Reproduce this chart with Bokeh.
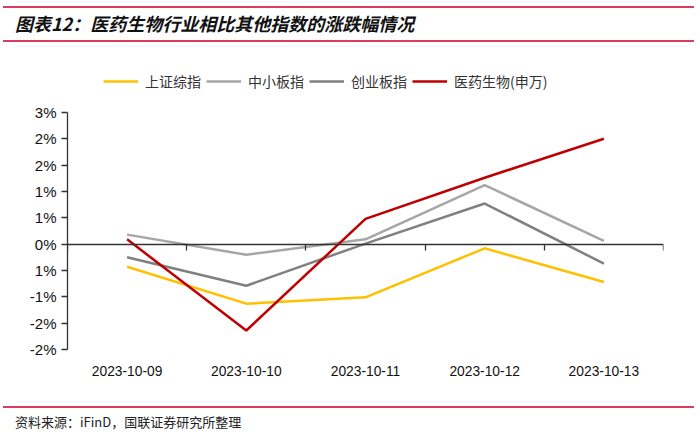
from bokeh.plotting import figure
from bokeh.models import Range1d, FixedTicker, LinearAxis, Div
from bokeh.layouts import column
from bokeh.embed import file_html
from bokeh.resources import INLINE

# ---- data ----
dates = ["2023-10-09", "2023-10-10", "2023-10-11", "2023-10-12", "2023-10-13"]
sh_index = [-0.43, -1.13, -1.01, -0.08, -0.72]      # 上证综指
sme_index = [0.18, -0.20, 0.09, 1.12, 0.06]          # 中小板指
gem_index = [-0.25, -0.79, 0.01, 0.77, -0.37]        # 创业板指
pharma_index = [0.09, -1.64, 0.48, 1.26, 2.00]       # 医药生物(申万)
series_names = ["上证综指", "中小板指", "创业板指", "医药生物(申万)"]
y_ticks = [-2.0, -1.5, -1.0, -0.5, 0.0, 0.5, 1.0, 1.5, 2.0, 2.5]
y_tick_labels = ["-2%", "-2%", "-1%", "1%", "0%", "1%", "1%", "2%", "2%", "3%"]
title_text = "图表12：医药生物行业相比其他指数的涨跌幅情况"
source_text = "资料来源：iFinD，国联证券研究所整理"

colors = ["#FFC000", "#A6A6A6", "#808080", "#C00000"]
rule_color = "#DC3D5F"
xs = list(range(len(dates)))
boundaries = [i - 0.5 for i in range(len(dates) + 1)]

p = figure(width=700, height=358, output_backend="svg", toolbar_location=None,
           x_range=Range1d(-0.5, len(dates) - 0.5), y_range=Range1d(-2, 3.56),
           min_border_left=67, min_border_right=37, min_border_top=14, min_border_bottom=51)
p.outline_line_color = None
p.xgrid.grid_line_color = None
p.ygrid.grid_line_color = None
p.background_fill_color = "white"

# bottom axis: only date labels
xa = p.xaxis[0]
xa.ticker = FixedTicker(ticks=xs)
xa.major_label_overrides = {i: d for i, d in zip(xs, dates)}
xa.axis_line_color = None
xa.major_tick_line_color = None
xa.minor_tick_line_color = None
xa.major_label_standoff = 10
xa.major_label_text_font = "Liberation Sans"
xa.major_label_text_font_size = "13.8px"
xa.major_label_text_color = "#111111"

# left axis
ya = p.yaxis[0]
ya.ticker = FixedTicker(ticks=y_ticks)
ya.bounds = (y_ticks[0], y_ticks[-1])
ya.major_label_overrides = {t: l for t, l in zip(y_ticks, y_tick_labels)}
ya.axis_line_color = "#333333"
ya.axis_line_width = 1.3
ya.major_tick_line_color = "#333333"
ya.major_tick_line_width = 1.3
ya.major_tick_out = 6
ya.major_tick_in = 0
ya.minor_tick_line_color = None
ya.major_label_standoff = 5
ya.major_label_text_font = "Liberation Sans"
ya.major_label_text_font_size = "15px"
ya.major_label_text_color = "#111111"

# zero line axis with category boundary ticks
zero_axis = LinearAxis(fixed_location=0, ticker=FixedTicker(ticks=boundaries),
                       axis_line_color="#333333", axis_line_width=1.3,
                       major_tick_line_color="#333333", major_tick_line_width=1.3,
                       major_tick_in=6, major_tick_out=0, minor_tick_line_color=None,
                       major_label_text_font_size="0px", major_label_text_color=None)
p.add_layout(zero_axis, "above")

all_series = [sh_index, sme_index, gem_index, pharma_index]
for name, vals, c in zip(series_names, all_series, colors):
    p.line(xs, vals, line_color=c, line_width=2.5, legend_label=name)

lg = p.legend[0]
lg.orientation = "horizontal"
lg.location = (36, 258)
lg.padding = 0
lg.margin = 0
lg.spacing = 5
lg.glyph_width = 35
lg.glyph_height = 20
lg.label_standoff = 7
lg.label_text_font = "Noto Sans CJK SC"
lg.label_text_font_size = "14px"
lg.label_text_color = "#333333"
lg.border_line_color = None
lg.background_fill_alpha = 0

rule = ('<div style="margin-left:3px;width:691px;height:2px;background-color:'
        + rule_color + ';font-size:0;line-height:0;"></div>')

header = Div(width=700, height=42, margin=(0, 0, 0, 0), text=(
    '<div style="width:700px;height:42px;">'
    '<div style="height:6px;font-size:0;line-height:0;"></div>'
    + rule +
    '<div style="height:32px;padding-left:15px;line-height:31px;font-family:\'Noto Sans CJK SC\';'
    'font-size:18px;font-weight:bold;font-style:italic;color:#111;white-space:nowrap;">'
    + title_text + '</div>'
    + rule + '</div>'))

footer = Div(width=700, height=40, margin=(0, 0, 0, 0), text=(
    '<div style="width:700px;height:40px;">'
    '<div style="height:6px;font-size:0;line-height:0;"></div>'
    + rule +
    '<div style="padding-left:15px;line-height:27px;'
    'font-family:\'Noto Sans CJK SC\';font-size:13px;color:#222;white-space:nowrap;">'
    + source_text + '</div></div>'))

layout = column(header, p, footer, spacing=0)
open("out.html", "w").write(file_html(layout, INLINE))
